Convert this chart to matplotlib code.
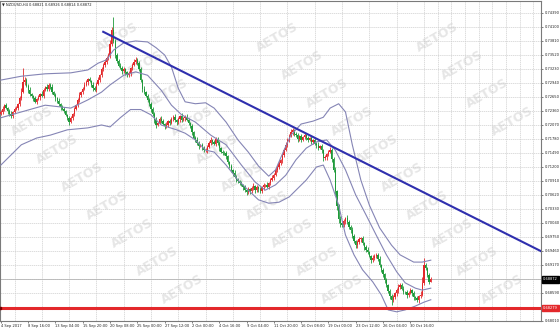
import matplotlib
matplotlib.use("Agg")
import matplotlib.pyplot as plt
import numpy as np

# header of the MT4 window
symbol = "NZDUSD,H4"
header_ohlc = ["0.68821", "0.68926", "0.68814", "0.68872"]

# H4 candles (closes; open = previous close)
first_open = 0.7230
closes = [
    0.7234, 0.7240, 0.7248, 0.7242, 0.7236, 0.7229, 0.7226, 0.7233, 0.7240, 0.7242,
    0.7250, 0.7262, 0.7275, 0.7295, 0.7300, 0.7288, 0.7280, 0.7272, 0.7266, 0.7262,
    0.7255, 0.7260, 0.7264, 0.7272, 0.7268, 0.7279, 0.7285, 0.7281, 0.7290, 0.7286,
    0.7276, 0.7269, 0.7262, 0.7256, 0.7250, 0.7244, 0.7240, 0.7236, 0.7228, 0.7222,
    0.7214, 0.7222, 0.7230, 0.7240, 0.7248, 0.7258, 0.7269, 0.7275, 0.7282, 0.7290,
    0.7295, 0.7302, 0.7298, 0.7290, 0.7284, 0.7280, 0.7292, 0.7300, 0.7310, 0.7322,
    0.7331, 0.7338, 0.7346, 0.7352, 0.7375, 0.7404, 0.7380, 0.7352, 0.7340, 0.7330,
    0.7326, 0.7318, 0.7322, 0.7316, 0.7310, 0.7314, 0.7324, 0.7332, 0.7338, 0.7342,
    0.7335, 0.7322, 0.7300, 0.7282, 0.7275, 0.7268, 0.7259, 0.7250, 0.7240, 0.7230,
    0.7218, 0.7208, 0.7212, 0.7220, 0.7216, 0.7210, 0.7204, 0.7208, 0.7215, 0.7212,
    0.7220, 0.7224, 0.7218, 0.7213, 0.7219, 0.7225, 0.7217, 0.7221, 0.7224, 0.7218,
    0.7212, 0.7205, 0.7192, 0.7180, 0.7176, 0.7170, 0.7164, 0.7166, 0.7160, 0.7155,
    0.7155, 0.7162, 0.7170, 0.7176, 0.7172, 0.7168, 0.7178, 0.7170, 0.7160, 0.7152,
    0.7150, 0.7148, 0.7142, 0.7130, 0.7122, 0.7114, 0.7108, 0.7100, 0.7093, 0.7090,
    0.7086, 0.7083, 0.7078, 0.7072, 0.7068, 0.7074, 0.7070, 0.7076, 0.7080, 0.7072,
    0.7078, 0.7074, 0.7070, 0.7078, 0.7082, 0.7083, 0.7079, 0.7086, 0.7093, 0.7098,
    0.7104, 0.7114, 0.7120, 0.7128, 0.7134, 0.7145, 0.7156, 0.7166, 0.7176, 0.7185,
    0.7192, 0.7196, 0.7188, 0.7186, 0.7178, 0.7184, 0.7176, 0.7182, 0.7186, 0.7180,
    0.7176, 0.7180, 0.7172, 0.7176, 0.7168, 0.7166, 0.7160, 0.7164, 0.7155, 0.7138,
    0.7140, 0.7146, 0.7152, 0.7156, 0.7136, 0.7114, 0.7070, 0.7040, 0.7012, 0.7005,
    0.7000, 0.7008, 0.7014, 0.7006, 0.6996, 0.6990, 0.6978, 0.6966, 0.6958, 0.6964,
    0.6970, 0.6973, 0.6962, 0.6954, 0.6948, 0.6944, 0.6936, 0.6927, 0.6932, 0.6936,
    0.6938, 0.6930, 0.6918, 0.6907, 0.6898, 0.6886, 0.6876, 0.6864, 0.6852, 0.6845,
    0.6850, 0.6858, 0.6865, 0.6872, 0.6876, 0.6868, 0.6862, 0.6861, 0.6855, 0.6860,
    0.6865, 0.6858, 0.6850, 0.6849, 0.6845, 0.6852, 0.6855, 0.6880, 0.6918, 0.6910,
    0.6896, 0.68821, 0.68872,
]
# wick lengths beyond the body, in pips
wick_hi = [
    4, 6, 3, 5, 2, 4, 6, 3, 5, 4,
    3, 5, 8, 30, 6, 4, 3, 5, 2, 4,
    4, 3, 6, 2, 5, 4, 3, 6, 4, 3,
    5, 2, 4, 3, 6, 2, 4, 5, 3, 2,
    3, 4, 2, 5, 3, 4, 6, 3, 4, 5,
    6, 3, 4, 2, 5, 3, 4, 6, 3, 5,
    4, 6, 3, 5, 8, 6, 27, 5, 4, 3,
    5, 3, 6, 4, 2, 5, 3, 4, 6, 5,
    3, 4, 6, 3, 5, 2, 4, 3, 5, 4,
    3, 5, 2, 4, 6, 3, 2, 5, 3, 4,
    4, 3, 5, 2, 4, 3, 6, 2, 3, 5,
    4, 2, 5, 3, 4, 6, 3, 2, 4, 3,
    5, 3, 4, 6, 2, 3, 5, 4, 3, 2,
    4, 3, 5, 2, 3, 4, 2, 5, 3, 4,
    3, 5, 2, 4, 3, 5, 2, 4, 6, 3,
    4, 2, 5, 3, 4, 2, 5, 3, 4, 6,
    3, 5, 4, 6, 3, 5, 4, 6, 5, 4,
    6, 4, 3, 5, 4, 3, 5, 2, 4, 3,
    4, 3, 5, 2, 4, 3, 5, 2, 4, 3,
    5, 3, 4, 6, 3, 4, 5, 3, 4, 6,
    4, 5, 3, 6, 4, 3, 5, 4, 3, 5,
    4, 3, 5, 2, 4, 6, 3, 2, 5, 3,
    4, 3, 5, 2, 4, 3, 5, 2, 3, 4,
    5, 3, 4, 6, 3, 4, 5, 2, 4, 3,
    4, 3, 5, 2, 4, 3, 8, 12, 14, 4,
    3, 4, 5,
]
wick_lo = [
    3, 5, 4, 2, 6, 3, 5, 4, 2, 3,
    5, 3, 4, 2, 5, 3, 6, 4, 3, 5,
    3, 4, 2, 5, 3, 6, 2, 4, 3, 5,
    4, 2, 5, 3, 4, 6, 3, 5, 2, 4,
    7, 3, 4, 5, 2, 4, 3, 5, 4, 3,
    3, 5, 2, 4, 6, 3, 4, 2, 5, 3,
    4, 3, 5, 4, 6, 5, 4, 6, 5, 3,
    4, 6, 3, 5, 4, 3, 5, 4, 3, 5,
    4, 3, 5, 6, 4, 3, 5, 4, 6, 5,
    6, 8, 4, 3, 5, 4, 6, 3, 5, 4,
    3, 5, 4, 6, 3, 5, 4, 2, 5, 3,
    5, 4, 6, 3, 5, 4, 6, 3, 5, 4,
    4, 6, 3, 5, 4, 3, 5, 4, 6, 3,
    5, 4, 6, 3, 5, 4, 6, 3, 5, 4,
    4, 3, 5, 4, 6, 3, 5, 4, 3, 5,
    3, 5, 4, 3, 5, 4, 3, 5, 4, 3,
    4, 3, 5, 4, 3, 5, 4, 3, 5, 4,
    3, 5, 4, 3, 6, 4, 5, 3, 4, 5,
    4, 3, 5, 4, 3, 6, 4, 3, 5, 6,
    4, 5, 3, 4, 6, 5, 8, 10, 7, 9,
    5, 4, 6, 5, 4, 6, 5, 4, 6, 5,
    4, 5, 3, 6, 4, 5, 3, 6, 4, 5,
    4, 5, 6, 4, 5, 6, 4, 5, 6, 10,
    5, 4, 6, 5, 4, 3, 5, 4, 6, 5,
    4, 5, 6, 4, 5, 6, 4, 3, 5, 4,
    3, 4, 1,
]

# Bollinger bands, read at sample bars
upper_x = [0, 12, 26, 41, 51, 57, 62, 66, 72, 79, 86, 91, 96, 100, 104, 108, 114, 120,
           125, 132, 139, 145, 151, 157, 161, 166, 170, 176, 183, 189, 193, 198, 202,
           206, 211, 216, 222, 229, 234, 242, 247, 252]
upper_y = [0.7300, 0.7308, 0.7313, 0.7315, 0.7321, 0.7335, 0.7342, 0.7362, 0.7377,
           0.7381, 0.7379, 0.7367, 0.7352, 0.7327, 0.7283, 0.7255, 0.7251, 0.7253,
           0.7242, 0.7213, 0.7176, 0.7151, 0.7122, 0.7101, 0.7114, 0.7155, 0.7186,
           0.7209, 0.7215, 0.7223, 0.7242, 0.7251, 0.7234, 0.7166, 0.7093, 0.7041,
           0.6994, 0.6958, 0.6938, 0.6923, 0.6923, 0.6927]
mid_x = [0, 12, 26, 41, 51, 59, 64, 72, 79, 86, 94, 100, 106, 114, 123, 132, 141, 149,
         155, 161, 167, 173, 179, 185, 191, 196, 202, 208, 214, 220, 226, 232, 237,
         243, 247, 252]
mid_y = [0.7222, 0.7234, 0.7248, 0.7242, 0.7259, 0.7275, 0.7290, 0.7310, 0.7317,
         0.7310, 0.7279, 0.7248, 0.7228, 0.7213, 0.7186, 0.7166, 0.7124, 0.7089,
         0.7072, 0.7083, 0.7103, 0.7135, 0.7159, 0.7172, 0.7176, 0.7155, 0.7114,
         0.7062, 0.7021, 0.6979, 0.6938, 0.6903, 0.6880, 0.6869, 0.6865, 0.6869]
lower_x = [0, 6, 12, 21, 29, 39, 51, 59, 64, 70, 76, 82, 88, 94, 103, 108, 114, 120,
           125, 132, 139, 145, 151, 157, 163, 169, 173, 179, 185, 189, 193, 198, 202,
           207, 212, 218, 223, 227, 232, 237, 243, 248, 252]
lower_y = [0.7124, 0.7145, 0.7166, 0.7180, 0.7186, 0.7197, 0.7201, 0.7207, 0.7203,
           0.7222, 0.7239, 0.7239, 0.7228, 0.7207, 0.7197, 0.7190, 0.7176, 0.7155,
           0.7151, 0.7124, 0.7093, 0.7072, 0.7052, 0.7045, 0.7047, 0.7058, 0.7072,
           0.7093, 0.7120, 0.7124, 0.7093, 0.7041, 0.6979, 0.6938, 0.6907, 0.6882,
           0.6855, 0.6824, 0.6820, 0.6824, 0.6832, 0.6840, 0.6845]

# drawn objects
trend_x = [60, 317.5]
trend_y = [0.7400, 0.6944]
support_level = 0.68279
last_price = 0.68872

price_ticks = [0.74390, 0.74100, 0.73810, 0.73520, 0.73230, 0.72940, 0.72650, 0.72360,
               0.72070, 0.71780, 0.71490, 0.71200, 0.70910, 0.70620, 0.70330, 0.70040,
               0.69750, 0.69460, 0.69170, 0.68880, 0.68590, 0.68300, 0.68010]
# labels hidden behind the price boxes
hidden_ticks = [0.68880, 0.68300]
date_labels = ["4 Sep 2017", "8 Sep 16:00", "13 Sep 04:00", "15 Sep 20:00",
               "20 Sep 08:00", "25 Sep 00:00", "27 Sep 12:00", "2 Oct 00:00",
               "4 Oct 16:00", "9 Oct 04:00", "11 Oct 20:00", "16 Oct 08:00",
               "19 Oct 00:00", "23 Oct 12:00", "26 Oct 04:00", "30 Oct 16:00"]
date_bars = [0, 16, 32, 48, 64, 80, 96, 112, 128, 144, 160, 176, 192, 208, 224, 240]

W, H = 560, 328
fig = plt.figure(figsize=(W / 100, H / 100), dpi=100)
ax = fig.add_axes([0, 7 / H, 541 / W, 320 / H])
ax.set_xlim(-0.5, 316.6)
ax.set_ylim(0.68010, 0.74638)

# watermark
for c in range(-3, 5):
    for k in range(-4, 14):
        px = 437 + 160 * c + 25 * k
        py = 37 + 28 * k
        if 28 < px < 515 and 14 < py < 300:
            ax.text(px / W, 1 - py / H, "AETOS", transform=fig.transFigure,
                    fontsize=9, fontweight="bold", color="#e6e6e6", rotation=30,
                    ha="center", va="center", zorder=0.5, clip_on=False)

# grid
ax.set_xticks(date_bars)
ax.set_xticklabels(date_labels, ha="left")
ax.set_xticks(np.arange(0, 317, 8), minor=True)
ax.set_yticks(price_ticks)
ax.set_yticklabels(["" if p in hidden_ticks else f"{p:.5f}" for p in price_ticks])
ax.grid(True, which="minor", axis="x", color="#cfcfcf", lw=0.5, ls=(0, (2, 1)))
ax.grid(True, which="major", axis="y", color="#cfcfcf", lw=0.5, ls=(0, (2, 1)))
ax.set_axisbelow(True)
ax.yaxis.tick_right()
ax.tick_params(axis="y", labelsize=2.6, length=1.5, width=0.4, pad=1.5, colors="#222222")
ax.tick_params(axis="x", which="major", labelsize=2.6, length=1.5, width=0.4, pad=1,
               colors="#222222")
ax.tick_params(axis="x", which="minor", length=0)
for s in ax.spines.values():
    s.set_color("#7a7a7a")
    s.set_linewidth(0.8)

# candles
closes_a = np.array(closes)
opens_a = np.concatenate([[first_open], closes_a[:-1]])
top = np.maximum(opens_a, closes_a)
bot = np.minimum(opens_a, closes_a)
highs = top + np.array(wick_hi) * 0.0001
lows = bot - np.array(wick_lo) * 0.0001
idx = np.arange(len(closes_a))
up = closes_a >= opens_a
colors = np.where(up, "#e3282b", "#1f9a3a")
ax.vlines(idx, lows, highs, colors=colors, lw=0.6, zorder=3)
ax.bar(idx, np.maximum(top - bot, 0.00005), bottom=bot, width=0.75, color=colors,
       lw=0, zorder=3)

# Bollinger bands
for bx, by in ((upper_x, upper_y), (mid_x, mid_y), (lower_x, lower_y)):
    ax.plot(bx, by, color="#8585b5", lw=0.8, zorder=4)

# last price line, support line, trend line
ax.axhline(last_price, color="#b5b5b5", lw=0.6, zorder=2)
ax.axhline(support_level, color="#e3282b", lw=2.2, zorder=5)
ax.plot([-0.5], [support_level], marker="s", ms=2, color="#7a0000", zorder=6,
        clip_on=False)
ax.plot(trend_x, trend_y, color="#2f2fae", lw=1.5, zorder=6)

# price boxes on the axis
tr = ax.get_yaxis_transform()
ax.text(1.004, last_price, f"{last_price:.5f}", transform=tr, fontsize=2.6,
        color="white", ha="left", va="center", zorder=10, clip_on=False,
        bbox=dict(boxstyle="square,pad=0.35", fc="black", ec="black"))
ax.text(1.004, support_level, f"{support_level:.5f}", transform=tr, fontsize=2.6,
        color="white", ha="left", va="center", zorder=10, clip_on=False,
        bbox=dict(boxstyle="square,pad=0.35", fc="#e3282b", ec="#e3282b"))

# header
ax.text(2 / 541, 1 - 4 / 320, "\u25bc " + symbol + " " + " ".join(header_ohlc),
        transform=ax.transAxes, fontsize=2.6, color="#222222", ha="left", va="center",
        zorder=10)

fig.savefig("out.png", dpi=100, facecolor="white")
